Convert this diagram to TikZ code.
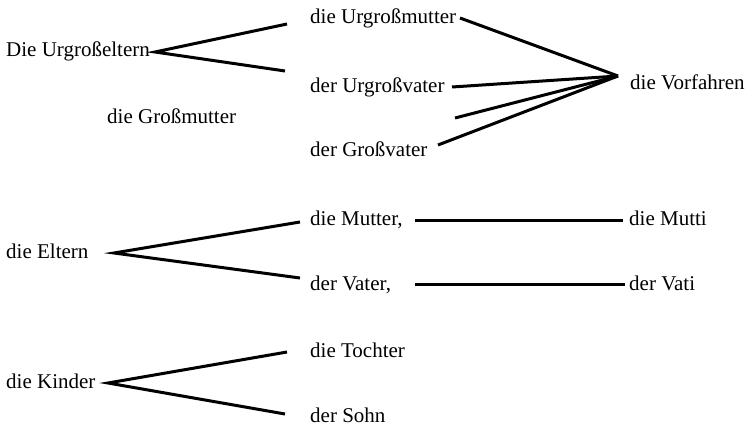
\documentclass[tikz,border=0pt]{standalone}
\usepackage{fontspec}
\setmainfont{Liberation Serif}
\begin{document}
\begin{tikzpicture}[x=1pt,y=-1pt,
  lbl/.style={anchor=base west,inner sep=0pt,font=\fontsize{21}{25}\selectfont},
  conn/.style={line width=3pt}]
\useasboundingbox (0,0) rectangle (749,425);
% texts
\node[lbl] (ue)  at (6,57)   {Die Urgroßeltern};
\node[lbl] (ugm) at (310,24) {die Urgroßmutter};
\node[lbl] (ugv) at (310,93) {der Urgroßvater};
\node[lbl] (gm)  at (107,124) {die Großmutter};
\node[lbl] (gv)  at (310,157) {der Großvater};
\node[lbl] (vf)  at (630,90) {die Vorfahren};
\node[lbl] (el)  at (6,258)  {die Eltern};
\node[lbl] (mu)  at (310,225) {die Mutter,};
\node[lbl] (va)  at (310,290) {der Vater,};
\node[lbl] (mi)  at (629,225) {die Mutti};
\node[lbl] (vi)  at (629,290) {der Vati};
\node[lbl] (ki)  at (6,388)  {die Kinder};
\node[lbl] (to)  at (310,357) {die Tochter};
\node[lbl] (so)  at (310,422) {der Sohn};
% connector points
\coordinate (ueh) at (155,52);
\coordinate (ugmL) at (287,24);
\coordinate (ugvL) at (285,71);
\coordinate (vfh) at (618,76);
\coordinate (ugmR) at (460,18);
\coordinate (ugvR) at (452,87);
\coordinate (free) at (455,118);
\coordinate (gvR) at (438,145);
\coordinate (elh) at (114,253);
\coordinate (muL) at (300,222);
\coordinate (vaL) at (300,278);
\coordinate (muR) at (415,220);
\coordinate (miL) at (623,220);
\coordinate (vaR) at (415,284);
\coordinate (viL) at (625,284);
\coordinate (kih) at (108,383);
\coordinate (toL) at (287,352);
\coordinate (soL) at (285,414);
% connectors
\draw[conn] (ugmL) -- (ueh) -- (ugvL);
\draw[conn] (ugmR) -- (vfh);
\draw[conn] (ugvR) -- (vfh);
\draw[conn] (free) -- (vfh);
\draw[conn] (gvR) -- (vfh);
\draw[conn] (muL) -- (elh) -- (vaL);
\draw[conn] (muR) -- (miL);
\draw[conn] (vaR) -- (viL);
\draw[conn] (toL) -- (kih) -- (soL);
\end{tikzpicture}
\end{document}
